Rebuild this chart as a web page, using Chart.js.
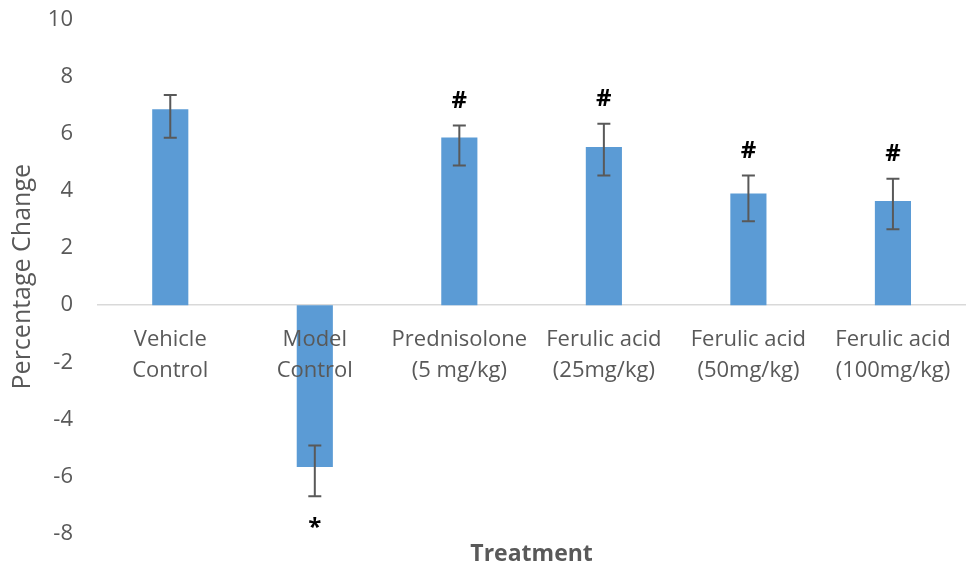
<!DOCTYPE html>
<html>
<head>
<meta charset="utf-8">
<script src="https://cdn.jsdelivr.net/npm/chart.js@4.4.1/dist/chart.umd.min.js"></script>
<style>
  html, body { margin: 0; padding: 0; background: #ffffff; }
  #wrap { width: 970px; height: 569px; }
</style>
</head>
<body>
<div id="wrap"><canvas id="chart" width="970" height="569"></canvas></div>
<script>
// Treatment groups (two-line axis labels)
const categories = [
  ["Vehicle", "Control"],
  ["Model", "Control"],
  ["Prednisolone", "(5 mg/kg)"],
  ["Ferulic acid", "(25mg/kg)"],
  ["Ferulic acid", "(50mg/kg)"],
  ["Ferulic acid", "(100mg/kg)"]
];
// Mean percentage change per group
const percentChange = [6.87, -5.67, 5.88, 5.55, 3.92, 3.65];
// Error bar extents above and below the mean
const errorPlus  = [0.50, 0.75, 0.42, 0.81, 0.63, 0.78];
const errorMinus = [1.00, 1.03, 0.98, 1.00, 0.98, 0.99];
// Significance symbols shown beyond the error bar
const significance = ["", "*", "#", "#", "#", "#"];
// Value axis range and step
const yMin = -8, yMax = 10, yStep = 2;

const TEXT = "#595959";
const FONT = "'Open Sans', 'DejaVu Sans', sans-serif";

// Draws the error bars and significance symbols on top of the bars
const errorBarPlugin = {
  id: "errorBars",
  afterDatasetsDraw(chart) {
    const ctx = chart.ctx;
    const yScale = chart.scales.y;
    const meta = chart.getDatasetMeta(0);
    ctx.save();
    meta.data.forEach((bar, i) => {
      const v = percentChange[i];
      const yHi = yScale.getPixelForValue(v + errorPlus[i]);
      const yLo = yScale.getPixelForValue(v - errorMinus[i]);
      const x = bar.x;
      const cap = 6.5;
      ctx.strokeStyle = "#595959";
      ctx.lineWidth = 2;
      ctx.beginPath();
      ctx.moveTo(x, yHi); ctx.lineTo(x, yLo);
      ctx.moveTo(x - cap, yHi); ctx.lineTo(x + cap, yHi);
      ctx.moveTo(x - cap, yLo); ctx.lineTo(x + cap, yLo);
      ctx.stroke();

      const sym = significance[i];
      if (sym) {
        ctx.font = "bold 24px " + FONT;
        ctx.fillStyle = "#000000";
        ctx.textAlign = "center";
        ctx.textBaseline = "alphabetic";
        const m = ctx.measureText(sym);
        const cy = v >= 0 ? yHi - 26 : yLo + 26;
        const base = cy + (m.actualBoundingBoxAscent - m.actualBoundingBoxDescent) / 2;
        ctx.fillText(sym, x, base);
      }
    });
    ctx.restore();
  }
};

new Chart(document.getElementById("chart"), {
  type: "bar",
  data: {
    labels: categories,
    datasets: [{
      data: percentChange,
      backgroundColor: "#5B9BD5",
      borderWidth: 0,
      categoryPercentage: 1.0,
      barPercentage: 0.25
    }]
  },
  options: {
    responsive: false,
    animation: false,
    devicePixelRatio: 1,
    layout: { padding: { top: 20, right: 2, left: 0, bottom: 0 } },
    plugins: {
      legend: { display: false },
      tooltip: { enabled: false },
      title: {
        display: true,
        text: "Treatment",
        position: "bottom",
        fullSize: false,
        color: TEXT,
        font: { family: FONT, size: 23, weight: "bold", lineHeight: 1.2 },
        padding: { top: 7.5, bottom: 0.5 }
      }
    },
    scales: {
      x: {
        position: { y: 0 },
        grid: { display: false, drawTicks: false },
        border: { display: true, color: "#D9D9D9", width: 1.5 },
        ticks: {
          z: 1,
          color: TEXT,
          font: { family: FONT, size: 22, lineHeight: 1.42 },
          padding: 19,
          maxRotation: 0,
          autoSkip: false
        }
      },
      y: {
        min: yMin,
        max: yMax,
        grid: { display: false, drawTicks: false },
        border: { display: false },
        ticks: {
          stepSize: yStep,
          color: TEXT,
          font: { family: FONT, size: 22 },
          padding: 25
        },
        title: {
          display: true,
          text: "Percentage Change",
          color: TEXT,
          font: { family: FONT, size: 25, lineHeight: 1.2 },
          padding: { top: 8, bottom: 0 }
        },
        afterFit(scale) {
          scale.width = 98;
          scale.paddingTop = 0;
          scale.paddingBottom = 0;
        }
      }
    }
  },
  plugins: [errorBarPlugin]
});
</script>
</body>
</html>
